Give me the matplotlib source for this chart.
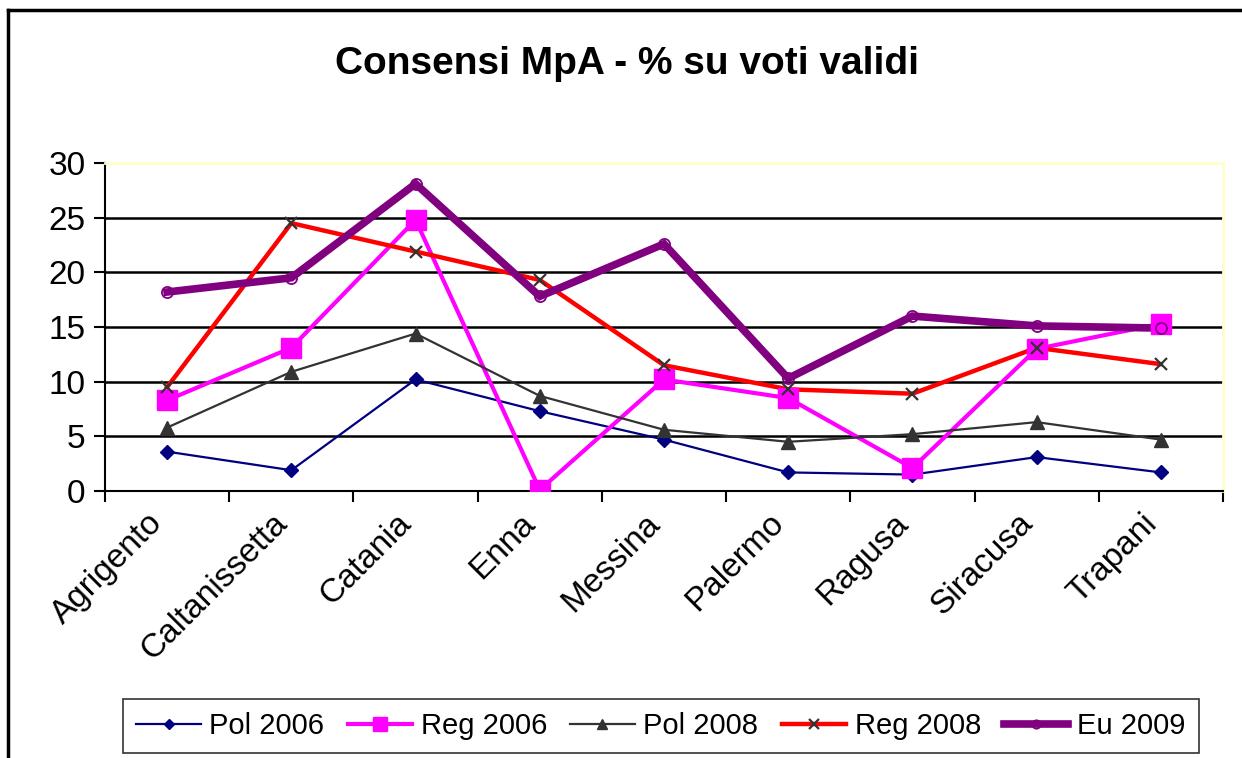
import matplotlib
matplotlib.use("Agg")
import matplotlib.pyplot as plt
import matplotlib.transforms as mtransforms
from matplotlib.lines import Line2D

plt.rcParams["font.family"] = ["Liberation Sans", "DejaVu Sans"]

provinces = ["Agrigento", "Caltanissetta", "Catania", "Enna", "Messina",
             "Palermo", "Ragusa", "Siracusa", "Trapani"]
pol_2006 = [3.6, 1.9, 10.2, 7.3, 4.7, 1.7, 1.5, 3.1, 1.7]
reg_2006 = [8.3, 13.1, 24.8, 0.1, 10.2, 8.5, 2.1, 13.0, 15.3]
pol_2008 = [5.8, 10.9, 14.4, 8.7, 5.6, 4.5, 5.2, 6.3, 4.7]
reg_2008 = [9.5, 24.5, 21.9, 19.3, 11.5, 9.3, 8.9, 13.1, 11.6]
eu_2009 = [18.2, 19.5, 28.1, 17.8, 22.6, 10.3, 16.0, 15.1, 14.9]

series = [
    ("Pol 2006", pol_2006, dict(color="#000080", lw=1.6, marker="D", ms=7, mfc="#000080", mec="#000080", mew=1)),
    ("Reg 2006", reg_2006, dict(color="#ff00ff", lw=3.0, marker="s", ms=14, mfc="#ff00ff", mec="#ff00ff", mew=1)),
    ("Pol 2008", pol_2008, dict(color="#333333", lw=1.6, marker="^", ms=10, mfc="#333333", mec="#333333", mew=1)),
    ("Reg 2008", reg_2008, dict(color="#ff0000", lw=3.2, marker="x", ms=9, mfc="#333333", mec="#333333", mew=1.6)),
    ("Eu 2009", eu_2009, dict(color="#800080", lw=5.5, marker="o", ms=8, mfc="none", mec="#800080", mew=1.3)),
]

fig = plt.figure(figsize=(12.42, 7.58), dpi=100)
ax = fig.add_axes([105 / 1242, 1 - 491 / 758, (1223 - 105) / 1242, (491 - 163) / 758])

x = list(range(len(provinces)))
handles = []
for name, vals, st in series:
    # lines first, markers on top (like the spreadsheet draws them)
    ax.plot(x, vals, color=st["color"], lw=st["lw"], zorder=3, solid_joinstyle="miter")
    ax.plot(x, vals, ls="none", marker=st["marker"], ms=st["ms"], mfc=st["mfc"],
            mec=st["mec"], mew=st["mew"], zorder=4)
    handles.append(Line2D([], [], color=st["color"], lw=st["lw"], marker=st["marker"],
                          ms=st["ms"] * 0.75, mfc=st["mfc"], mec=st["mec"], mew=st["mew"]))

ax.set_xlim(-0.5, len(provinces) - 0.5)
ax.set_ylim(0, 30)
ax.set_yticks([0, 5, 10, 15, 20, 25, 30])
for yv in [5, 10, 15, 20, 25]:
    ax.axhline(yv, color="black", lw=1.8, zorder=1)

ax.set_xticks([i - 0.5 for i in range(len(provinces) + 1)])
ax.set_xticklabels([])
ax.set_xticks(x, minor=True)
ax.set_xticklabels(provinces, minor=True, rotation=45, ha="right", va="top",
                   rotation_mode="anchor", fontsize=24)
ax.tick_params(axis="x", which="minor", length=0, pad=12)
ax.tick_params(axis="x", which="major", length=8, width=1.5, direction="out")
ax.tick_params(axis="y", length=8, width=1.5, direction="out", labelsize=24, pad=6)
shift = mtransforms.ScaledTranslation(-20 / 100, 0, fig.dpi_scale_trans)
for lab in ax.get_xticklabels(minor=True):
    lab.set_transform(lab.get_transform() + shift)

for side in ["top", "right"]:
    ax.spines[side].set_color("#ffffc8")
    ax.spines[side].set_linewidth(2)
for side in ["left", "bottom"]:
    ax.spines[side].set_color("black")
    ax.spines[side].set_linewidth(1.5)

fig.text(0.505, 1 - 64 / 758, "Consensi MpA - % su voti validi", ha="center", va="center",
         fontsize=28, fontweight="bold")

leg = fig.legend(handles=handles, labels=[s[0] for s in series], ncol=5,
                 loc="center", bbox_to_anchor=(661 / 1242, 1 - 726 / 758),
                 prop={"size": 21}, frameon=True, fancybox=False, edgecolor="black",
                 handlelength=2.2, handletextpad=0.3, columnspacing=0.8, borderpad=0.45)
leg.get_frame().set_linewidth(1.2)

# outer chart border (only top and left visible)
fig.add_artist(Line2D([8 / 1242, 8 / 1242], [0, 1 - 10 / 758], color="black", lw=2.5,
                      transform=fig.transFigure))
fig.add_artist(Line2D([8 / 1242, 1], [1 - 10 / 758, 1 - 10 / 758], color="black", lw=2.5,
                      transform=fig.transFigure))

fig.savefig("out.png", dpi=100)
